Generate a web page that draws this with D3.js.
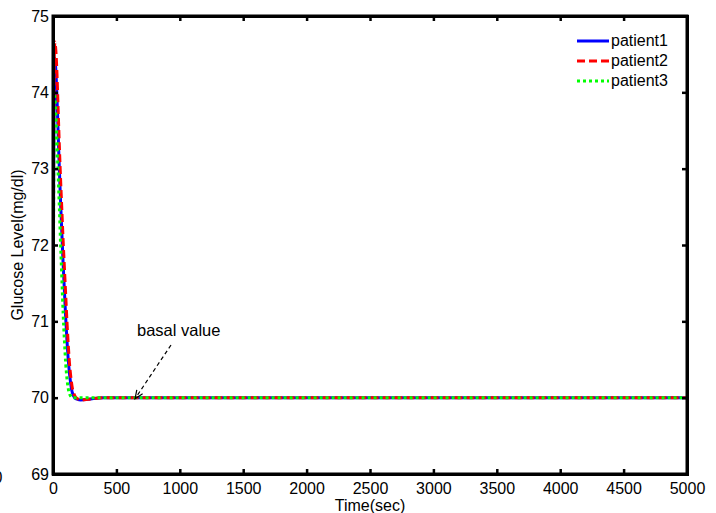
<!DOCTYPE html>
<html>
<head>
<meta charset="utf-8">
<script src="https://cdn.jsdelivr.net/npm/d3@7"></script>
<style>
  html, body { margin: 0; padding: 0; background: #fff; }
  svg text { font-family: "Liberation Sans", Arial, sans-serif; fill: #000; }
</style>
</head>
<body>
<svg id="chart" width="716" height="513"></svg>
<script>
// ---- data ----
const times = [0, 5, 10, 15, 20, 30, 40, 50, 60, 70, 80, 90, 100, 110, 120, 130, 140, 150, 170, 190, 220, 280, 400, 600, 5000];
const patient1 = [70, 72.8, 74.3, 74.45, 74.35, 74.0, 73.5, 73.0, 72.55, 72.15, 71.75, 71.4, 71.05, 70.75, 70.5, 70.32, 70.18, 70.08, 70.0, 69.98, 69.97, 69.98, 70, 70, 70];
const patient2 = [70, 73.0, 74.45, 74.66, 74.6, 74.3, 73.8, 73.3, 72.85, 72.45, 72.05, 71.7, 71.35, 71.0, 70.7, 70.45, 70.28, 70.15, 70.03, 69.99, 69.97, 69.98, 70, 70, 70];
const patient3 = [70, 72.5, 73.9, 73.95, 73.8, 73.4, 72.95, 72.5, 72.0, 71.55, 71.1, 70.75, 70.45, 70.25, 70.12, 70.05, 70.02, 70.0, 70.0, 70.0, 70.0, 70.0, 70, 70, 70];
const seriesNames = ["patient1", "patient2", "patient3"];
const seriesColors = ["#0000ff", "#ff0000", "#00ff00"];
const seriesDash = [null, "8,4", "3,3"];
const xTicks = [0, 500, 1000, 1500, 2000, 2500, 3000, 3500, 4000, 4500, 5000];
const yTicks = [69, 70, 71, 72, 73, 74, 75];
const xLabel = "Time(sec)";
const yLabel = "Glucose Level(mg/dl)";
const annotation = { text: "basal value", t: 600, v: 70 };

// ---- layout ----
const svg = d3.select("#chart");
const L = 53, R = 687, T = 16, B = 474;
const x = d3.scaleLinear().domain([0, 5000]).range([L, R]);
const y = d3.scaleLinear().domain([69, 75]).range([B, T]);
const fs = 16;

svg.append("defs").append("clipPath").attr("id", "clip")
  .append("rect").attr("x", L).attr("y", T).attr("width", R - L).attr("height", B - T);

const allSeries = [patient1, patient2, patient3];
const line = d3.line().x(d => x(d[0])).y(d => y(d[1])).curve(d3.curveMonotoneX);

const gData = svg.append("g").attr("clip-path", "url(#clip)");
allSeries.forEach((vals, i) => {
  const pts = times.map((t, k) => [t, vals[k]]);
  gData.append("path")
    .attr("d", line(pts))
    .attr("fill", "none")
    .attr("stroke", seriesColors[i])
    .attr("stroke-width", 3)
    .attr("stroke-dasharray", seriesDash[i]);
});

// axes with inward ticks
const tickLen = 5;
const axB = svg.append("g").attr("transform", `translate(0,${B})`)
  .call(d3.axisBottom(x).tickValues(xTicks).tickSize(-tickLen).tickPadding(9).tickFormat(d3.format("d")));
const axT = svg.append("g").attr("transform", `translate(0,${T})`)
  .call(d3.axisTop(x).tickValues(xTicks).tickSize(-tickLen).tickFormat(""));
const axL = svg.append("g").attr("transform", `translate(${L},0)`)
  .call(d3.axisLeft(y).tickValues(yTicks).tickSize(-tickLen).tickPadding(4).tickFormat(d3.format("d")));
const axR = svg.append("g").attr("transform", `translate(${R},0)`)
  .call(d3.axisRight(y).tickValues(yTicks).tickSize(-tickLen).tickFormat(""));
[axB, axT, axL, axR].forEach(g => {
  g.select(".domain").attr("stroke", "#000").attr("stroke-width", 3);
  g.selectAll(".tick line").attr("stroke", "#000").attr("stroke-width", 2.5);
  g.selectAll(".tick text").attr("font-size", fs).attr("font-family", "Liberation Sans, Arial, sans-serif").attr("fill", "#000");
});
svg.append("rect").attr("x", L).attr("y", T).attr("width", R - L).attr("height", B - T)
  .attr("fill", "none").attr("stroke", "#000").attr("stroke-width", 3);

// axis labels
svg.append("text").attr("x", (L + R) / 2).attr("y", 511).attr("text-anchor", "middle")
  .attr("font-size", fs).text(xLabel);
svg.append("text").attr("transform", `translate(23,${(T + B) / 2}) rotate(-90)`)
  .attr("text-anchor", "middle").attr("font-size", fs).text(yLabel);

// clipped stray "0" at far left (cut off in the reference too)
svg.append("text").attr("x", 2.5).attr("y", 483).attr("text-anchor", "end").attr("font-size", fs).text("0");

// legend
const legX = 577, legY0 = 41, legDy = 20;
seriesNames.forEach((n, i) => {
  const yy = legY0 + i * legDy;
  svg.append("line").attr("x1", legX).attr("x2", legX + 32).attr("y1", yy).attr("y2", yy)
    .attr("stroke", seriesColors[i]).attr("stroke-width", 3).attr("stroke-dasharray", seriesDash[i]);
  svg.append("text").attr("x", legX + 34).attr("y", yy + 5).attr("font-size", fs).text(n);
});

// annotation
const tipX = x(annotation.t) + 6, tipY = y(annotation.v) + 1;
const sx = 171, sy = 345;
svg.append("text").attr("x", 137).attr("y", 336).attr("font-size", 16.5).text(annotation.text);
svg.append("line").attr("x1", sx).attr("y1", sy).attr("x2", tipX).attr("y2", tipY)
  .attr("stroke", "#000").attr("stroke-width", 1.2).attr("stroke-dasharray", "4,3");
const ang = Math.atan2(tipY - sy, tipX - sx);
const ah = 9, aw = 0.4;
svg.append("path")
  .attr("d", `M${tipX - ah * Math.cos(ang - aw)},${tipY - ah * Math.sin(ang - aw)} L${tipX},${tipY} L${tipX - ah * Math.cos(ang + aw)},${tipY - ah * Math.sin(ang + aw)}`)
  .attr("fill", "none").attr("stroke", "#000").attr("stroke-width", 1.2);
</script>
</body>
</html>
